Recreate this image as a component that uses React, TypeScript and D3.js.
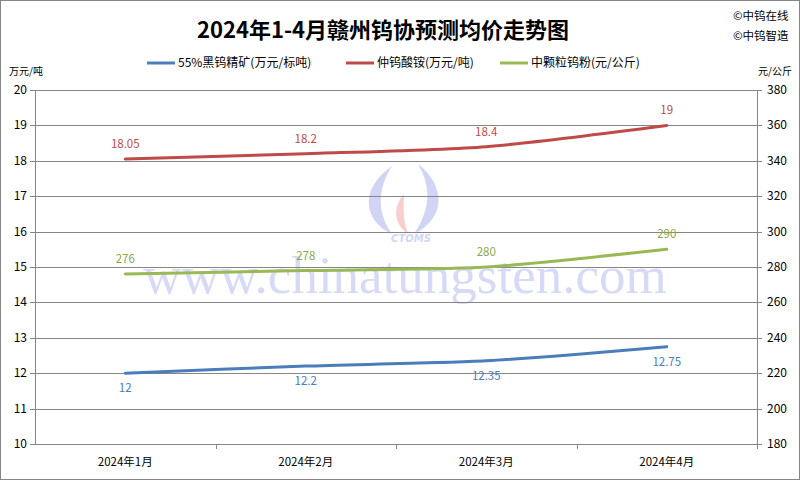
import React, { useEffect, useRef } from "react";
import * as d3 from "d3";

const months = ["2024年1月", "2024年2月", "2024年3月", "2024年4月"];
const concentrate = [12, 12.2, 12.35, 12.75];
const apt = [18.05, 18.2, 18.4, 19];
const powder = [276, 278, 280, 290];
const leftTicks = [10, 11, 12, 13, 14, 15, 16, 17, 18, 19, 20];
const rightTicks = [180, 200, 220, 240, 260, 280, 300, 320, 340, 360, 380];

const FONT = "'Noto Sans CJK SC', 'Noto Sans', sans-serif";

const App: React.FC = () => {
  const svgRef = useRef<SVGSVGElement | null>(null);

  useEffect(() => {
    const width = 800, height = 480;
    const svg = d3.select(svgRef.current).attr("width", width).attr("height", height);
    svg.selectAll("*").remove();

    const left = 35, right = 757, top = 90, bottom = 444;

    svg.append("rect")
      .attr("x", 0.5).attr("y", 0.5)
      .attr("width", width - 1).attr("height", height - 1)
      .attr("fill", "#fff").attr("stroke", "#868686");

    const x = d3.scaleBand().domain(months).range([left, right]);
    const yL = d3.scaleLinear().domain([10, 20]).range([bottom, top]);
    const yR = d3.scaleLinear().domain([180, 380]).range([bottom, top]);
    const cx = (m: string) => x(m)! + x.bandwidth() / 2;

    // watermark (logo + site name)
    const wm = svg.append("g").attr("opacity", 0.4);
    wm.append("path")
      .attr("d", "M392,166 C360,188 362,220 392,234 C376,212 378,188 392,166 Z")
      .attr("fill", "#8f95e8");
    wm.append("path")
      .attr("d", "M418,164 C446,186 446,218 414,234 C430,210 432,188 418,164 Z")
      .attr("fill", "#8f95e8");
    wm.append("path")
      .attr("d", "M404,194 C392,208 394,224 408,234 C402,218 404,204 404,194 Z")
      .attr("fill", "#f08a8a");
    wm.append("text")
      .attr("x", 411).attr("y", 242)
      .attr("text-anchor", "middle")
      .attr("font-family", "'DejaVu Sans', sans-serif")
      .attr("font-style", "italic").attr("font-weight", "bold")
      .attr("font-size", 10).attr("fill", "#8f95e8")
      .text("CTOMS");
    svg.append("text")
      .attr("x", 405).attr("y", 293)
      .attr("text-anchor", "middle")
      .attr("font-family", "'Liberation Serif', serif")
      .attr("font-size", 53).attr("fill", "#b8bdf0").attr("opacity", 0.55)
      .text("www.chinatungsten.com");

    // gridlines and axes
    svg.append("g").selectAll("line").data(leftTicks).join("line")
      .attr("x1", left - 5).attr("x2", right + 5)
      .attr("y1", d => Math.round(yL(d)) + 0.5).attr("y2", d => Math.round(yL(d)) + 0.5)
      .attr("stroke", "#868686");
    svg.append("line")
      .attr("x1", left + 0.5).attr("x2", left + 0.5).attr("y1", top).attr("y2", bottom)
      .attr("stroke", "#868686");
    svg.append("line")
      .attr("x1", right + 0.5).attr("x2", right + 0.5).attr("y1", top).attr("y2", bottom)
      .attr("stroke", "#868686");
    svg.append("g").selectAll("line").data(months).join("line")
      .attr("x1", (d, i) => Math.round(left + x.bandwidth() * (i + 1)) + 0.5)
      .attr("x2", (d, i) => Math.round(left + x.bandwidth() * (i + 1)) + 0.5)
      .attr("y1", bottom).attr("y2", bottom + 5)
      .attr("stroke", "#868686");

    const tickText = (g: any) => g
      .attr("font-family", FONT).attr("font-size", 12).attr("fill", "#000");

    svg.append("g").call(tickText).selectAll("text").data(leftTicks).join("text")
      .attr("x", 27).attr("y", d => yL(d) + 4)
      .attr("text-anchor", "end").text(d => d);
    svg.append("g").call(tickText).selectAll("text").data(rightTicks).join("text")
      .attr("x", 767).attr("y", d => yR(d) + 4)
      .text(d => d);
    svg.append("g").call(tickText).attr("font-size", 11.5).selectAll("text").data(months).join("text")
      .attr("x", d => cx(d)).attr("y", 466)
      .attr("text-anchor", "middle").text(d => d);

    svg.append("text").call(tickText).attr("font-size", 10)
      .attr("x", 9).attr("y", 75).text("万元/吨");
    svg.append("text").call(tickText).attr("font-size", 10)
      .attr("x", 792).attr("y", 75).attr("text-anchor", "end").text("元/公斤");

    // title
    svg.append("text")
      .attr("x", 383).attr("y", 38)
      .attr("text-anchor", "middle")
      .attr("font-family", FONT).attr("font-weight", "bold")
      .attr("font-size", 22).attr("fill", "#000")
      .text("2024年1-4月赣州钨协预测均价走势图");
    svg.append("text").call(tickText).attr("font-size", 11.5)
      .attr("x", 733).attr("y", 20).text("©中钨在线");
    svg.append("text").call(tickText).attr("font-size", 11.5)
      .attr("x", 733).attr("y", 40).text("©中钨智造");

    const series = [
      { name: "55%黑钨精矿(万元/标吨)", values: concentrate, y: yL, color: "#4a7ebb", label: "#4a7ebb", dy: 19, lx: 147 },
      { name: "仲钨酸铵(万元/吨)", values: apt, y: yL, color: "#be4b48", label: "#be4b48", dy: -11, lx: 346 },
      { name: "中颗粒钨粉(元/公斤)", values: powder, y: yR, color: "#98b954", label: "#8aa84a", dy: -11, lx: 500 },
    ];

    const line = d3.line<[number, number]>().x(d => d[0]).y(d => d[1]).curve(d3.curveCardinal.tension(0.3));

    series.forEach(s => {
      const pts: [number, number][] = s.values.map((v, i) => [cx(months[i]), s.y(v)]);
      svg.append("path")
        .attr("d", line(pts)!)
        .attr("fill", "none")
        .attr("stroke", s.color)
        .attr("stroke-width", 3)
        .attr("stroke-linecap", "round");
      svg.append("g").selectAll("text").data(s.values).join("text")
        .attr("x", (d, i) => pts[i][0])
        .attr("y", (d, i) => pts[i][1] + s.dy)
        .attr("text-anchor", "middle")
        .attr("font-family", FONT).attr("font-size", 11.5)
        .attr("fill", s.label)
        .text(d => d);

      svg.append("line")
        .attr("x1", s.lx).attr("x2", s.lx + 28).attr("y1", 63).attr("y2", 63)
        .attr("stroke", s.color).attr("stroke-width", 3);
      svg.append("text")
        .attr("x", s.lx + 31).attr("y", 67)
        .attr("font-family", FONT).attr("font-size", 12).attr("fill", "#000")
        .text(s.name);
    });
  }, []);

  return (
    <svg ref={svgRef} style={{ position: "absolute", left: 0, top: 0, display: "block" }}></svg>
  );
};

export default App;
